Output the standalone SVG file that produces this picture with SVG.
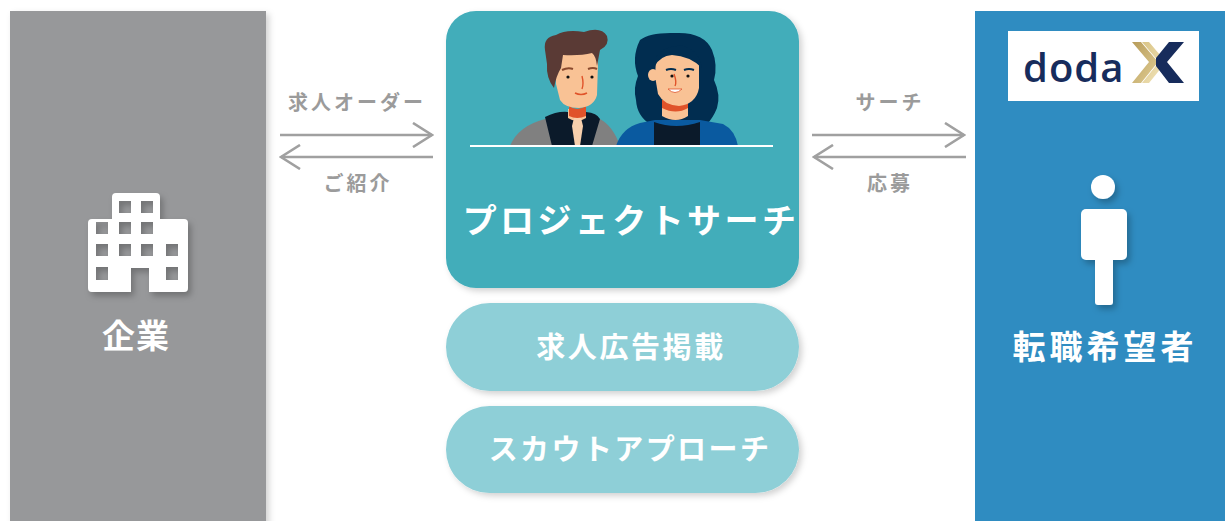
<svg xmlns="http://www.w3.org/2000/svg" width="1225" height="521" viewBox="0 0 1225 521">
  <defs>
    <style>
      .lbl { font-family: "Noto Sans CJK JP", "Noto Sans", sans-serif; font-weight: 700; }
      .arrow-text { fill: #9b9b9b; font-size: 20px; letter-spacing: 3px; text-anchor: middle; }
      .white-text { fill: #ffffff; text-anchor: middle; }
      .conn { stroke: #a0a0a0; stroke-width: 2.6; fill: none; stroke-linecap: butt; }
    </style>
    <marker id="chev" viewBox="0 0 22 26" refX="20" refY="13" markerWidth="22" markerHeight="26" markerUnits="userSpaceOnUse" orient="auto">
      <path d="M1,1 L20,13 L1,25" fill="none" stroke="#a0a0a0" stroke-width="2.6"/>
    </marker>
    <filter id="shadow" x="-10%" y="-10%" width="130%" height="130%">
      <feDropShadow dx="3" dy="3" stdDeviation="3" flood-color="#000" flood-opacity="0.18"/>
    </filter>
    <filter id="iconShadow" x="-20%" y="-20%" width="150%" height="150%">
      <feDropShadow dx="3" dy="4" stdDeviation="3" flood-color="#000" flood-opacity="0.25"/>
    </filter>
    <linearGradient id="gold1" x1="0" y1="0" x2="1" y2="1">
      <stop offset="0" stop-color="#b79c5a"/>
      <stop offset="1" stop-color="#e2cf96"/>
    </linearGradient>
    <linearGradient id="gold2" x1="0" y1="0" x2="1" y2="1">
      <stop offset="0" stop-color="#d9c486"/>
      <stop offset="1" stop-color="#f3e6bd"/>
    </linearGradient>
  </defs>

  <rect width="1225" height="521" fill="#ffffff"/>

  <!-- Company side panel -->
  <g id="company">
    <rect x="10" y="11" width="256" height="520" fill="#97989a" filter="url(#shadow)"/>
    <g filter="url(#iconShadow)">
      <path fill="#ffffff" fill-rule="evenodd" d="
        M116,193 H156 A4,4 0 0 1 160,197 V219 H184 A4,4 0 0 1 188,223 V288 A4,4 0 0 1 184,292 H149 V268 H131 V292 H92 A4,4 0 0 1 88,288 V223 A4,4 0 0 1 92,219 H112 V197 A4,4 0 0 1 116,193 Z
        M119,201 h12 v12 h-12 Z M141,201 h12 v12 h-12 Z
        M96,222 h12 v12 h-12 Z M119,222 h12 v12 h-12 Z M141,222 h12 v12 h-12 Z
        M96,244 h12 v12 h-12 Z M119,244 h12 v12 h-12 Z M141,244 h12 v12 h-12 Z M166,244 h12 v12 h-12 Z
        M96,267 h12 v13 h-12 Z M166,267 h12 v13 h-12 Z"/>
    </g>
    <text class="lbl white-text" x="136" y="348" font-size="33" letter-spacing="1">企業</text>
  </g>

  <!-- Job seeker side panel -->
  <g id="seeker">
    <rect x="975" y="11" width="260" height="520" fill="#2f8cc1"/>
    <g id="doda-logo">
      <rect x="1008" y="31" width="191" height="70" fill="#ffffff"/>
      <text x="1023" y="82" font-family="'Open Sans', 'DejaVu Sans', sans-serif" font-size="40" font-weight="600" fill="#172c5c" letter-spacing="1">doda</text>
      <polygon points="1132,42 1141,42 1158,62 1141,83 1132,83 1149,62" fill="url(#gold1)"/>
      <polygon points="1142,42 1149,42 1166,62 1149,83 1142,83 1159,62" fill="url(#gold2)"/>
      <polygon points="1169,42 1184,42 1167,62 1184,83 1169,83 1156,66 1156,58" fill="#172c5c"/>
    </g>
    <g filter="url(#iconShadow)" fill="#ffffff">
      <circle cx="1103" cy="187" r="12"/>
      <rect x="1081" y="209" width="46" height="51" rx="5"/>
      <rect x="1095" y="250" width="18" height="55" rx="3"/>
    </g>
    <text class="lbl white-text" x="1105" y="359" font-size="33" letter-spacing="4">転職希望者</text>
  </g>

  <!-- Central service card -->
  <g id="project-search">
    <rect x="446" y="11" width="353" height="277" rx="30" fill="#43adba" filter="url(#shadow)"/>
    <!-- man -->
    <g id="man">
      <path d="M510,146 Q518,126 545,119 L600,119 Q613,126 620,146 Z" fill="#808080"/>
      <path d="M545,117 Q557,111 568,112 L586,112 Q597,113 600,119 L592,146 L552,146 Z" fill="#0b1a2a"/>
      <path d="M568,109 L586,109 L586,118 Q577,124 568,118 Z" fill="#f9c295"/>
      <path d="M569,106 Q577,112 586,106 L586,116 Q577,120 569,116 Z" fill="#e0532a"/>
      <path d="M574,118 L581,118 L583,126 L580,146 L575,146 L572,126 Z" fill="#f7d0ad"/>
      <path d="M556,60 Q555,52 566,50 L592,50 Q598,54 598,64 L597,95 Q594,107 579,108 Q565,108 560,100 L556,84 Z" fill="#f9c295"/>
      <path d="M545,50 Q543,37 556,35 Q566,29 584,32 Q601,26 607,36 Q610,45 600,50 L597,66 Q596,56 592,53 Q580,56 563,55 L561,68 Q556,76 554,88 Q546,78 547,64 Z" fill="#5a3a35"/>
      <path d="M562,70 Q568,67 573,69" stroke="#8a4a2e" stroke-width="2" fill="none"/>
      <path d="M588,69 Q593,67 597,69" stroke="#8a4a2e" stroke-width="2" fill="none"/>
      <circle cx="568" cy="77" r="1.6" fill="#111"/>
      <circle cx="592" cy="77" r="1.6" fill="#111"/>
      <path d="M582,76 Q584,84 582,89" stroke="#e0532a" stroke-width="1.4" fill="none"/>
      <path d="M575,93 Q581,96 587,93" stroke="#e0532a" stroke-width="1.6" fill="none"/>
    </g>
    <!-- woman -->
    <g id="woman">
      <path d="M640,40 Q650,32 676,33 Q704,32 712,50 Q718,65 714,80 Q721,95 717,108 Q713,118 707,124 L650,124 Q637,116 636,100 Q633,88 638,76 Q631,58 640,40 Z" fill="#012d50"/>
      <path d="M616,146 Q622,128 640,123 L655,120 L700,120 L723,124 Q735,130 738,146 Z" fill="#0a5aa0"/>
      <path d="M654,122 Q676,130 700,122 L700,146 L654,146 Z" fill="#0b1a2a"/>
      <path d="M662,100 L688,100 L688,116 Q676,124 662,116 Z" fill="#f9c295"/>
      <path d="M662,100 L688,100 L688,108 Q676,115 662,108 Z" fill="#e0532a"/>
      <path d="M656,60 Q662,50 676,50 Q695,50 699,62 L699,88 Q696,104 679,106 Q664,105 658,94 L655,76 Z" fill="#f9c295"/>
      <ellipse cx="653" cy="75" rx="5" ry="6" fill="#f9c295"/>
      <path d="M655,58 Q665,44 684,46 Q700,52 702,68 Q690,56 672,55 Q660,56 655,66 Z" fill="#012d50"/>
      <path d="M666,70 Q671,68 676,70" stroke="#012d50" stroke-width="2" fill="none"/>
      <path d="M684,70 Q689,68 694,70" stroke="#012d50" stroke-width="2" fill="none"/>
      <circle cx="672" cy="76" r="1.6" fill="#111"/>
      <circle cx="688" cy="76" r="1.6" fill="#111"/>
      <path d="M674,74 Q677,82 675,86" stroke="#e0532a" stroke-width="1.4" fill="none"/>
      <path d="M668,89 Q675,96 682,89 Z" fill="#ffffff" stroke="#e0532a" stroke-width="0.8"/>
    </g>
    <line x1="470" y1="146" x2="773" y2="146" stroke="#ffffff" stroke-width="2.2"/>
    <text class="lbl white-text" x="631" y="233" font-size="34" letter-spacing="3.4">プロジェクトサーチ</text>
  </g>

  <g id="job-ad">
    <rect x="446" y="303" width="353" height="88" rx="44" fill="#8ecfd7" filter="url(#shadow)"/>
    <text class="lbl white-text" x="631" y="358" font-size="29" letter-spacing="2.6">求人広告掲載</text>
  </g>

  <g id="scout">
    <rect x="446" y="406" width="353" height="87" rx="43.5" fill="#8ecfd7" filter="url(#shadow)"/>
    <text class="lbl white-text" x="630" y="460" font-size="29" letter-spacing="2.4">スカウトアプローチ</text>
  </g>

  <!-- Connectors between the company, the service and the seekers -->
  <g id="connectors">
    <line class="conn" x1="280" y1="135" x2="432" y2="135" marker-end="url(#chev)"/>
    <line class="conn" x1="433" y1="157" x2="281" y2="157" marker-end="url(#chev)"/>
    <line class="conn" x1="812" y1="135" x2="964" y2="135" marker-end="url(#chev)"/>
    <line class="conn" x1="966" y1="157" x2="814" y2="157" marker-end="url(#chev)"/>
    <text class="lbl arrow-text" x="357" y="110">求人オーダー</text>
    <text class="lbl arrow-text" x="358" y="191">ご紹介</text>
    <text class="lbl arrow-text" x="890" y="110">サーチ</text>
    <text class="lbl arrow-text" x="890" y="191">応募</text>
  </g>
</svg>
